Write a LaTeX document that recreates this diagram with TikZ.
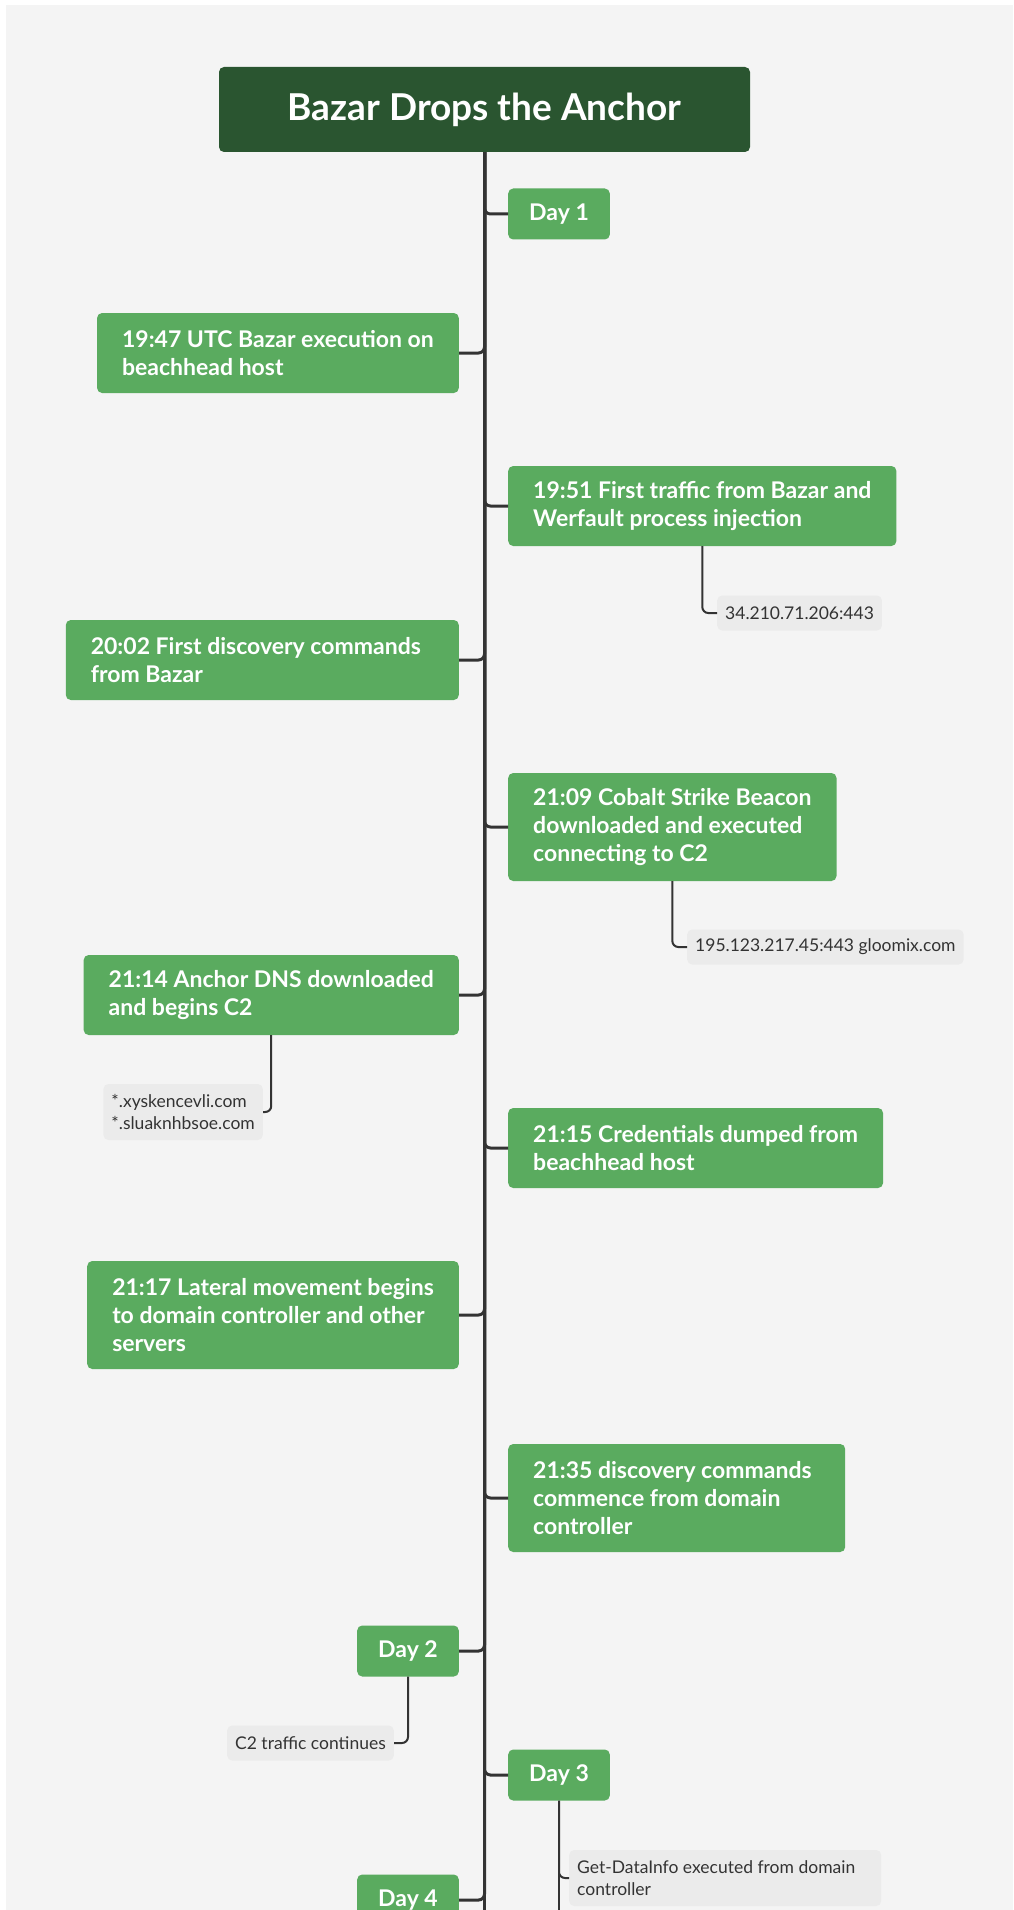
\documentclass[tikz,border=0pt]{standalone}
\usepackage{fontspec}
\setmainfont{Lato}
\definecolor{bggray}{HTML}{F4F4F4}
\definecolor{titlegreen}{HTML}{2A5530}
\definecolor{boxgreen}{HTML}{5AAB5F}
\definecolor{notegray}{HTML}{EBEBEB}
\definecolor{linegray}{HTML}{333333}
\begin{document}
\begin{tikzpicture}[x=1pt,y=-1pt,
  titlebox/.style={fill=titlegreen, text=white, rounded corners=5pt, font=\bfseries\fontsize{37}{44}\selectfont, minimum width=531, minimum height=85},
  event/.style={fill=boxgreen, text=white, rounded corners=5pt, font=\bfseries\fontsize{23}{28}\selectfont, align=flush left, inner xsep=25pt, inner ysep=0pt, minimum height=#1},
  event/.default=80,
  daybox/.style={event=51, inner xsep=21pt},
  note/.style={fill=notegray, text=linegray, rounded corners=5pt, font=\fontsize{17.5}{22}\selectfont, align=flush left, inner xsep=8pt, inner ysep=0pt, minimum height=#1},
  note/.default=35,
  branch/.style={draw=linegray, line width=3pt, rounded corners=6pt},
  notelink/.style={draw=linegray, line width=2pt, rounded corners=6pt}]
  \useasboundingbox (0,0) rectangle (1013,1910);
  \fill[white] (0,0) rectangle (1013,1910);
  \clip (0,0) rectangle (1013,1910);
  \fill[bggray] (6,5) rectangle (1013,1910);

  \node[titlebox] (title) at (484.5,109.5) {Bazar Drops the Anchor};

  \node[daybox, anchor=west] (day1) at (508,214) {Day 1};
  \node[event, anchor=east] (e1947) at (459,353) {19:47 UTC Bazar execution on\\beachhead host};
  \node[event, anchor=west] (e1951) at (508,506) {19:51 First traffic from Bazar and\\Werfault process injection};
  \node[note, anchor=west] (n1951) at (717,613) {34.210.71.206:443};
  \node[event, text width=343, anchor=east] (e2002) at (459,660) {20:02 First discovery commands\\from Bazar};
  \node[event=108, anchor=west] (e2109) at (508,827) {21:09 Cobalt Strike Beacon\\downloaded and executed\\connecting to C2};
  \node[note, anchor=west] (n2109) at (687,947) {195.123.217.45:443 gloomix.com};
  \node[event, anchor=east] (e2114) at (459,995) {21:14 Anchor DNS downloaded\\and begins C2};
  \node[note=56, anchor=east] (n2114) at (263,1112) {*.xyskencevli.com\\*.sluaknhbsoe.com};
  \node[event, anchor=west] (e2115) at (508,1148) {21:15 Credentials dumped from\\beachhead host};
  \node[event=108, anchor=east] (e2117) at (459,1315) {21:17 Lateral movement begins\\to domain controller and other\\servers};
  \node[event=108, text width=287, anchor=west] (e2135) at (508,1498) {21:35 discovery commands\\commence from domain\\controller};
  \node[daybox, anchor=east] (day2) at (459,1651) {Day 2};
  \node[note, anchor=east] (nday2) at (394,1743) {C2 traffic continues};
  \node[daybox, anchor=west] (day3) at (508,1775) {Day 3};
  \node[note=56, text width=296, anchor=west] (nday3) at (569,1878) {Get-DataInfo executed from domain\\controller};
  \node[daybox, anchor=east] (day4) at (459,1900) {Day 4};

  \coordinate (spineend) at (484.5,1930);
  \coordinate (day3end) at (day3.south |- spineend);

  \draw[branch] (title.south) -- (spineend);
  \draw[branch] (title.south) |- (day1.west);
  \draw[branch] (title.south) |- (e1947.east);
  \draw[branch] (title.south) |- (e1951.west);
  \draw[branch] (title.south) |- (e2002.east);
  \draw[branch] (title.south) |- (e2109.west);
  \draw[branch] (title.south) |- (e2114.east);
  \draw[branch] (title.south) |- (e2115.west);
  \draw[branch] (title.south) |- (e2117.east);
  \draw[branch] (title.south) |- (e2135.west);
  \draw[branch] (title.south) |- (day2.east);
  \draw[branch] (title.south) |- (day3.west);
  \draw[branch] (title.south) |- (day4.east);

  \draw[notelink] (e1951.south) |- (n1951.west);
  \draw[notelink] (e2109.south) |- (n2109.west);
  \draw[notelink] (e2114.south) |- (n2114.east);
  \draw[notelink] (day2.south) |- (nday2.east);
  \draw[notelink] (day3.south) |- (nday3.west);
  \draw[notelink] (day3.south) -- (day3end);
\end{tikzpicture}
\end{document}
